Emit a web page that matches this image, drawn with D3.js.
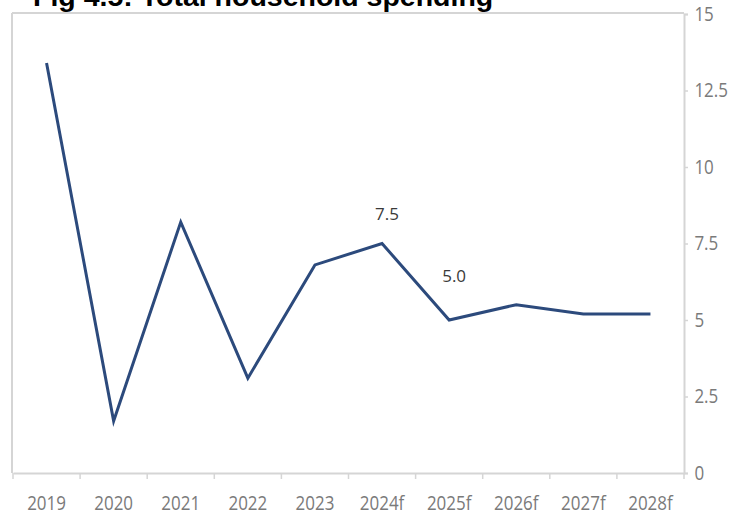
<!DOCTYPE html>
<html>
<head>
<meta charset="utf-8">
<script src="https://cdn.jsdelivr.net/npm/d3@7/dist/d3.min.js"></script>
<style>
  html, body { margin: 0; padding: 0; background: #fff; }
  svg { display: block; }
</style>
</head>
<body>
<svg id="chart" width="735" height="514"></svg>
<script>
// Total household spending, annual growth (%)
const years = ["2019", "2020", "2021", "2022", "2023", "2024f", "2025f", "2026f", "2027f", "2028f"];
const spending = [13.4, 1.7, 8.2, 3.1, 6.8, 7.5, 5.0, 5.5, 5.2, 5.2];
const yTicks = [0, 2.5, 5, 7.5, 10, 12.5, 15];
// Values that carry a printed label
const labelled = ["2024f", "2025f"];
const title = "Fig 4.5: Total household spending";

const svg = d3.select("#chart");
const plotLeft = 13, plotRight = 684, plotTop = 14, plotBottom = 473;

const x = d3.scaleBand().domain(years).range([plotLeft, plotRight]);
const y = d3.scaleLinear().domain([0, 15]).range([plotBottom, plotTop]);

const grey = "#d5d5d5";
const tickText = "#7a7a7a";
const font = "'Open Sans', 'DejaVu Sans Condensed', sans-serif";
const squeeze = "scale(0.87,1)";

// Plot frame: top and left edges
svg.append("line").attr("x1", plotLeft - 1).attr("x2", plotRight).attr("y1", plotTop - 1).attr("y2", plotTop - 1)
  .attr("stroke", grey).attr("stroke-width", 2);
svg.append("line").attr("x1", plotLeft - 1).attr("x2", plotLeft - 1).attr("y1", plotTop - 1).attr("y2", plotBottom)
  .attr("stroke", grey).attr("stroke-width", 2);

// Bottom category axis with ticks on band boundaries
const xAxis = svg.append("g").attr("transform", `translate(0,${plotBottom})`)
  .call(d3.axisBottom(x).tickSize(0));
xAxis.select(".domain").attr("stroke", grey).attr("stroke-width", 2);
xAxis.selectAll("text")
  .attr("y", 37).attr("dy", 0)
  .attr("transform", squeeze)
  .attr("fill", tickText).style("font-family", font).style("font-size", "19.5px");
const bounds = years.map(d => x(d)).concat([x(years[years.length - 1]) + x.bandwidth()]);
xAxis.selectAll(".bound").data(bounds).enter().append("line")
  .attr("class", "bound")
  .attr("x1", d => d).attr("x2", d => d).attr("y1", 0).attr("y2", 6)
  .attr("stroke", grey).attr("stroke-width", 1.5);

// Right value axis
const yAxis = svg.append("g").attr("transform", `translate(${plotRight},0)`)
  .call(d3.axisRight(y).tickValues(yTicks).tickFormat(d => String(d)).tickSize(4).tickPadding(8));
yAxis.select(".domain").attr("stroke", grey).attr("stroke-width", 2);
yAxis.selectAll(".tick line").attr("stroke", grey).attr("stroke-width", 1.5);
yAxis.selectAll("text")
  .attr("transform", squeeze)
  .attr("fill", tickText).style("font-family", font).style("font-size", "19.5px");

// Spending line
const line = d3.line()
  .x((d, i) => x(years[i]) + x.bandwidth() / 2)
  .y(d => y(d));
svg.append("path").datum(spending)
  .attr("d", line)
  .attr("fill", "none")
  .attr("stroke", "#2c4a7c")
  .attr("stroke-width", 3)
  .attr("stroke-linejoin", "miter");

// Value labels
const labelLift = { "2024f": 24, "2025f": 38 };
svg.selectAll(".vlabel").data(labelled).enter().append("text")
  .attr("class", "vlabel")
  .attr("x", d => x(d) + x.bandwidth() / 2 + 5)
  .attr("y", d => y(spending[years.indexOf(d)]) - labelLift[d])
  .attr("text-anchor", "middle")
  .attr("fill", "#3a3a3a")
  .style("font-family", font)
  .style("font-size", "17px")
  .text(d => spending[years.indexOf(d)].toFixed(1));

// Title, cut off by the top edge of the page
svg.append("text")
  .attr("x", 33).attr("y", 6)
  .attr("fill", "#000")
  .style("font-family", "'Liberation Sans', Arial, sans-serif")
  .style("font-weight", "bold")
  .style("font-size", "28.5px")
  .text(title);
</script>
</body>
</html>
